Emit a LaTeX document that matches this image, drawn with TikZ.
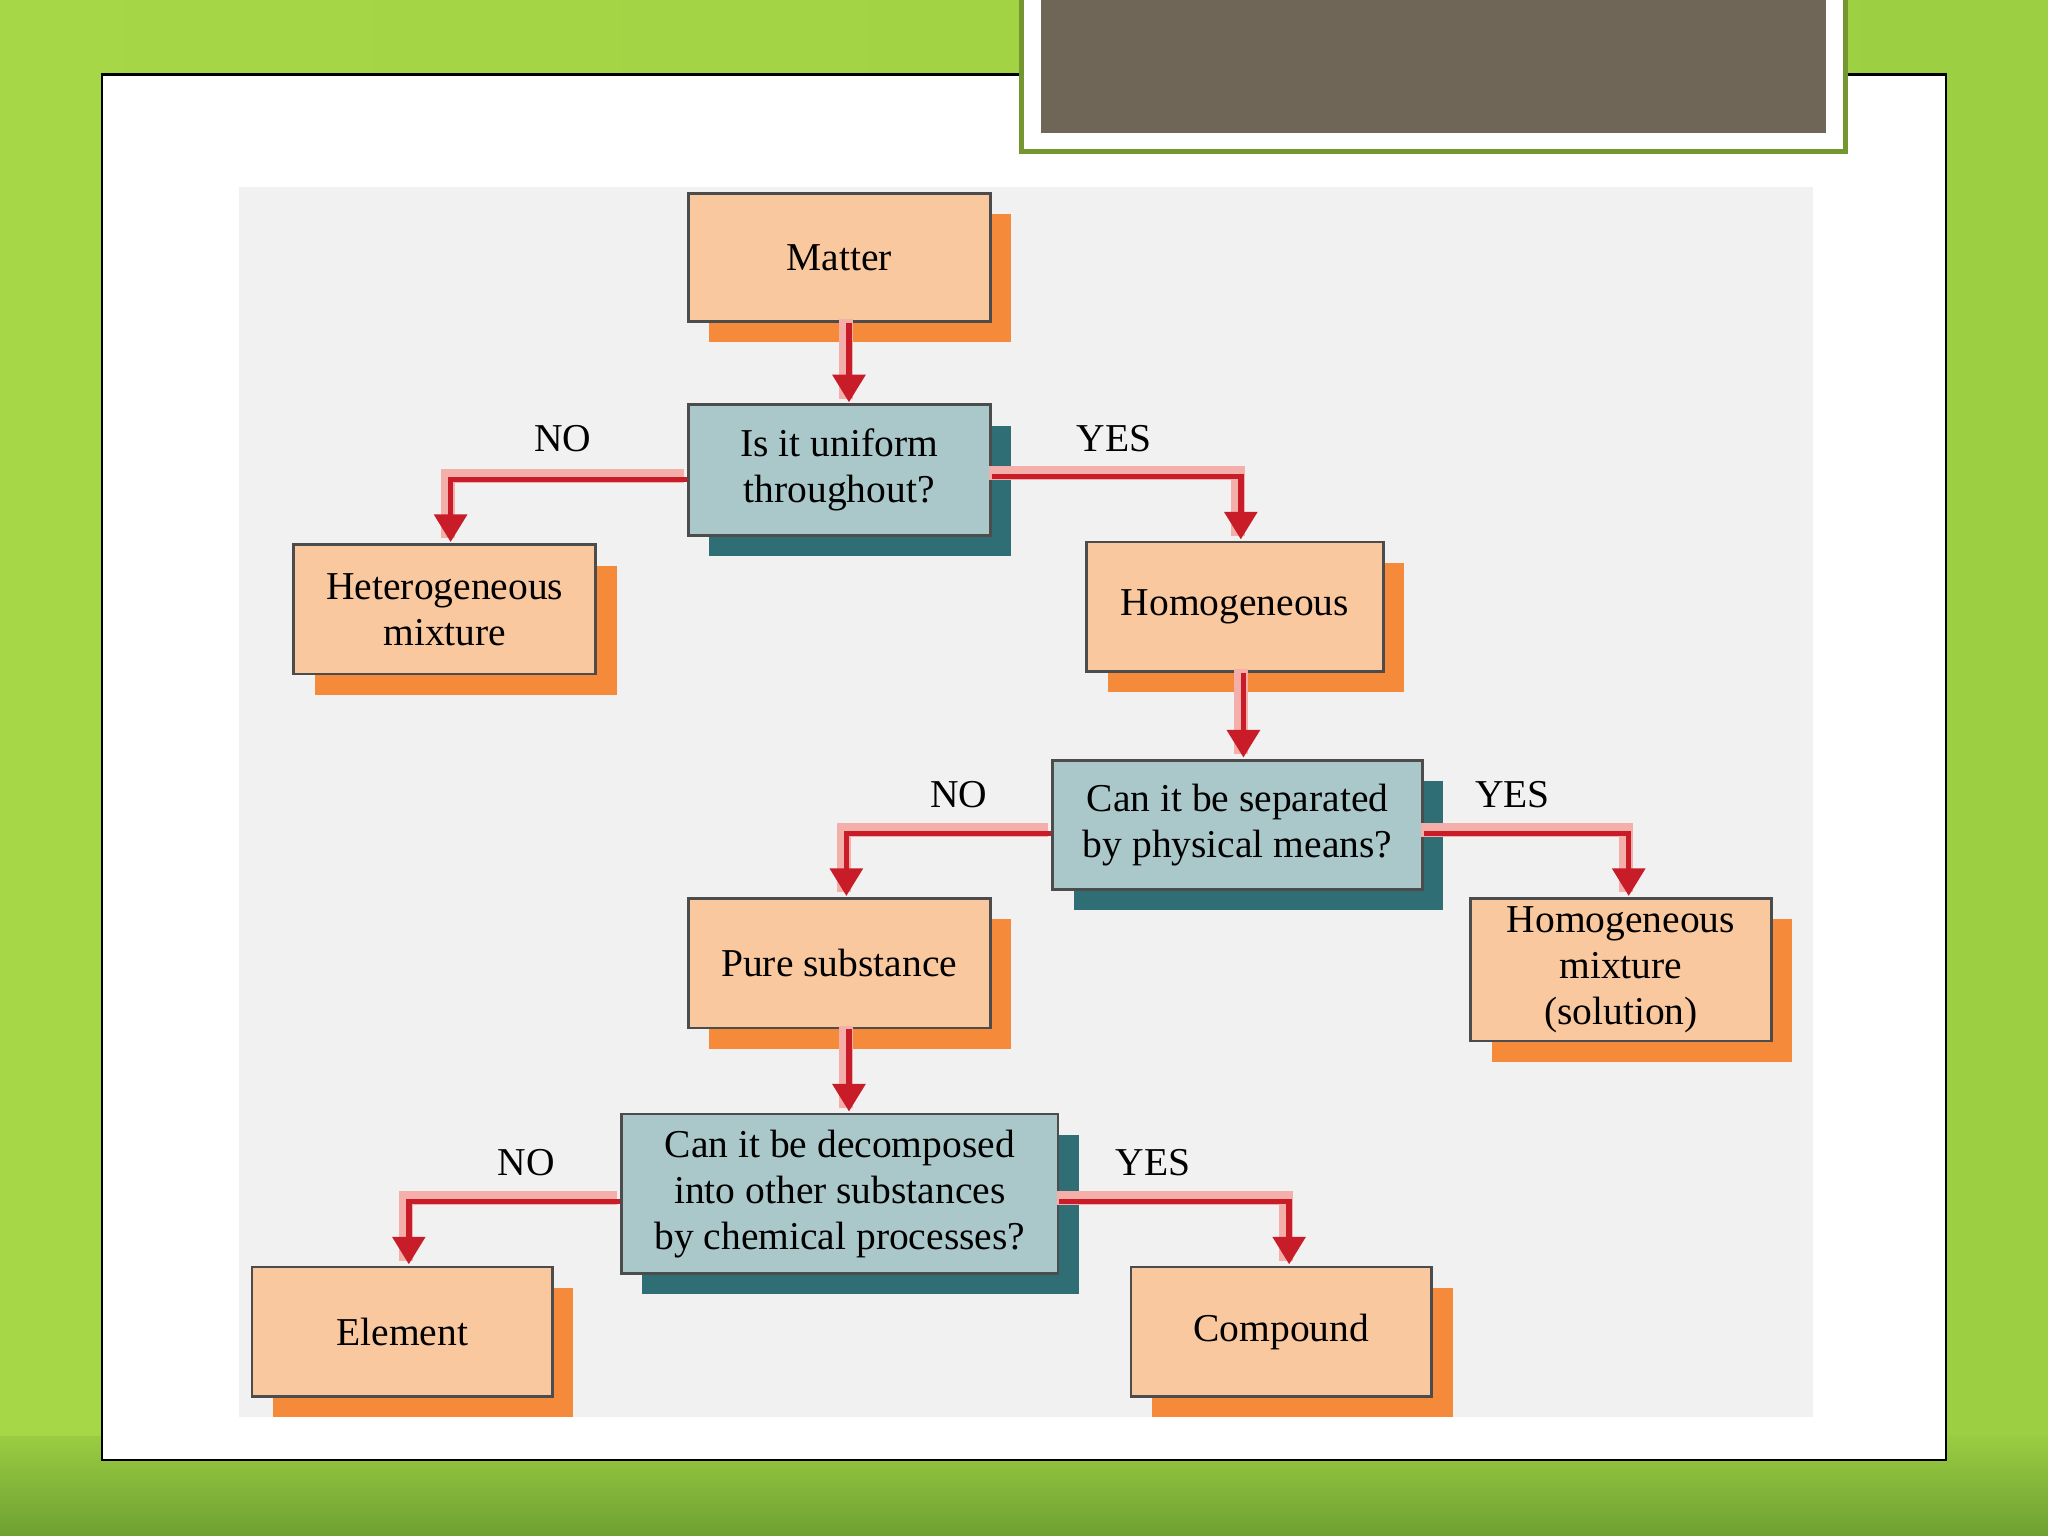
\documentclass[tikz,border=0pt]{standalone}
\usepackage{fontspec}
\setmainfont{Liberation Serif}
\usetikzlibrary{arrows.meta,shadows}
\definecolor{boxor}{RGB}{250,200,158}
\definecolor{shor}{RGB}{244,138,58}
\definecolor{boxbl}{RGB}{170,200,202}
\definecolor{shbl}{RGB}{48,110,118}
\definecolor{arrred}{RGB}{200,28,40}
\definecolor{arrpink}{RGB}{245,175,170}
\definecolor{panelgray}{RGB}{241,241,241}
\definecolor{topbrown}{RGB}{112,102,88}
\definecolor{lime}{RGB}{165,215,70}
\definecolor{dgreen}{RGB}{110,160,50}
\tikzset{
 obox/.style={draw=black!70,line width=0.6pt,fill=boxor,align=center,font=\fontsize{8.6}{10}\selectfont,
   drop shadow={shadow xshift=0.16cm,shadow yshift=-0.16cm,fill=shor,opacity=1},inner sep=0pt},
 bbox/.style={obox,fill=boxbl,drop shadow={shadow xshift=0.16cm,shadow yshift=-0.16cm,fill=shbl,opacity=1}},
 flow/.style={draw=arrred,line width=1.2pt,-{Triangle[width=7pt,length=6pt]},
   preaction={draw=arrpink,line width=3pt,transform canvas={xshift=-0.6pt,yshift=0.8pt},-}},
 lbl/.style={font=\fontsize{8.6}{10}\selectfont}
}
\begin{document}
\begin{tikzpicture}[x=0.01cm,y=-0.01cm]
\useasboundingbox (0,0) rectangle (1568,1176);
\begin{scope}
\clip (0,0) rectangle (1568,1176);
\shade[left color=lime,right color=lime!85!dgreen] (0,0) rectangle (1568,1176);
\shade[top color=lime!80!dgreen,bottom color=dgreen] (0,1100) rectangle (1568,1176);
\draw[fill=white,draw=black,line width=0.5pt] (78,57) rectangle (1490,1118);
\draw[fill=white,draw=lime!70!black,line width=1pt] (782,-5) rectangle (1413,116);
\fill[topbrown] (797,-5) rectangle (1398,102);
\fill[panelgray] (183,143) rectangle (1388,1085);
\end{scope}

\node[obox,minimum width=2.31cm,minimum height=0.98cm] (matter) at (642.5,197) {Matter};
\node[bbox,minimum width=2.31cm,minimum height=1.0cm] (unif) at (642.5,360) {Is it uniform\\throughout?};
\node[obox,minimum width=2.31cm,minimum height=0.99cm] (het) at (340.5,466.5) {Heterogeneous\\mixture};
\node[obox,minimum width=2.27cm,minimum height=0.99cm] (homo) at (945.5,464.5) {Homogeneous};
\node[bbox,minimum width=2.83cm,minimum height=0.99cm] (sep) at (947.5,631.5) {Can it be separated\\by physical means?};
\node[obox,minimum width=2.31cm,minimum height=0.99cm] (pure) at (642.5,737.5) {Pure substance};
\node[obox,minimum width=2.30cm,minimum height=1.09cm] (sol) at (1241,742.5) {Homogeneous\\mixture\\(solution)};
\node[bbox,minimum width=3.34cm,minimum height=1.22cm] (dec) at (643,914) {Can it be decomposed\\into other substances\\by chemical processes?};
\node[obox,minimum width=2.30cm,minimum height=0.99cm] (elem) at (308,1019.5) {Element};
\node[obox,minimum width=2.30cm,minimum height=0.99cm] (comp) at (981,1019.5) {Compound};

\coordinate (c1) at (345,367); \coordinate (c2) at (950,365);
\coordinate (c3) at (648,638); \coordinate (c4) at (1247,638);
\coordinate (c5) at (313,920); \coordinate (c6) at (987,920);
\draw[flow] (matter.south -| 650,0) -- (650,308);
\draw[flow] (unif.west |- c1) -- (c1) -- (345,415);
\draw[flow] (unif.east |- c2) -- (c2) -- (950,413);
\draw[flow] (homo.south -| 952,0) -- (952,580);
\draw[flow] (sep.west |- c3) -- (c3) -- (648,686);
\draw[flow] (sep.east |- c4) -- (c4) -- (1247,686);
\draw[flow] (pure.south -| 650,0) -- (650,851);
\draw[flow] (dec.west |- c5) -- (c5) -- (313,968);
\draw[flow] (dec.east |- c6) -- (c6) -- (987,968);

\node[lbl] (n1) at (431,336) {NO};
\node[lbl] (y1) at (853,336) {YES};
\node[lbl] (n2) at (734,608) {NO};
\node[lbl] (y2) at (1158,608) {YES};
\node[lbl] (n3) at (403,890) {NO};
\node[lbl] (y3) at (883,890) {YES};
\end{tikzpicture}
\end{document}
